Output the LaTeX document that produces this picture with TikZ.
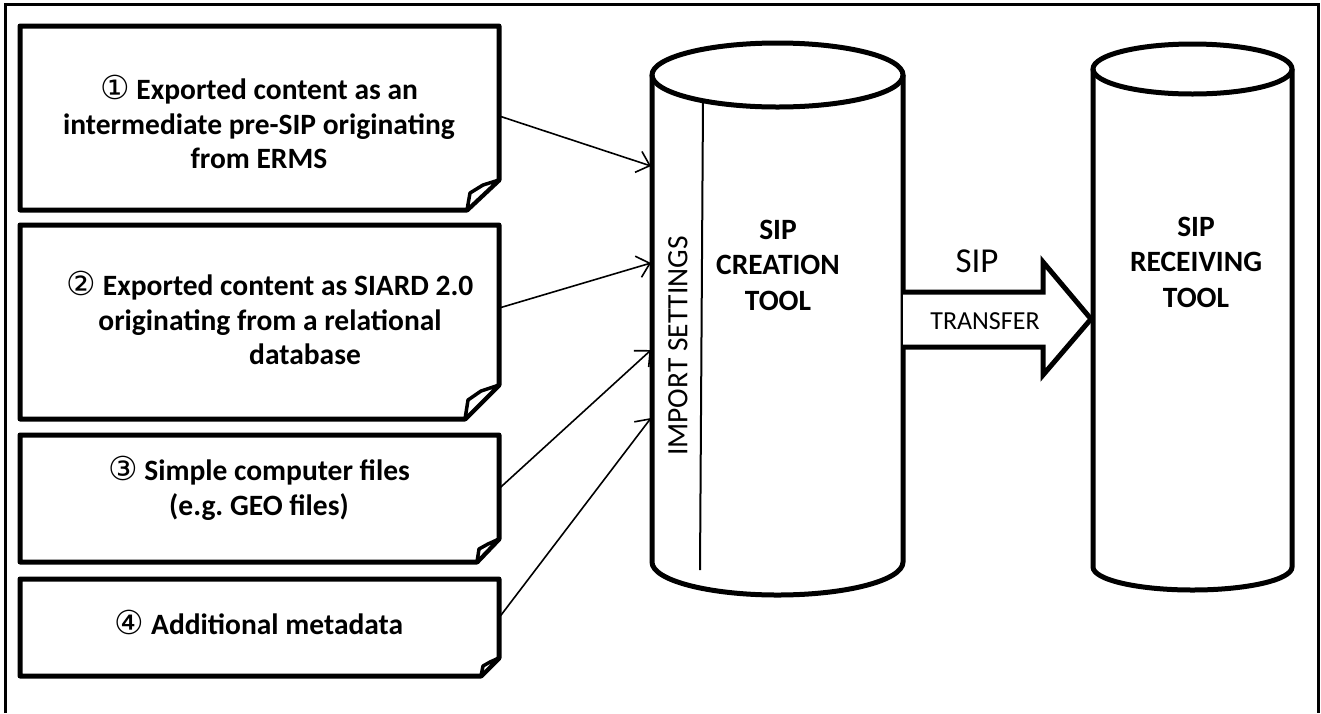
\documentclass[tikz,border=0pt]{standalone}
\usepackage{fontspec}
\setmainfont{Carlito}
\newfontfamily\circf{DejaVu Sans}
\newcommand\cnum[1]{\smash{\circf\mdseries\fontsize{33}{34}\selectfont #1}}
\usetikzlibrary{arrows.meta}
\frenchspacing
\begin{document}
\begin{tikzpicture}[x=1pt,y=-1pt,
  frameline/.style={line width=3pt},
  boxline/.style={line width=5pt, line join=round},
  flap/.style={line width=3.5pt, line join=round, fill=white},
  cyl/.style={line width=5pt},
  conn/.style={line width=1.6pt, -{Straight Barb[length=12pt,width=22pt]}},
  btxt/.style={font=\fontsize{29.5}{34.5}\selectfont\bfseries, align=center, inner sep=0pt},
  ctxt/.style={font=\fontsize{29.5}{35.5}\selectfont\bfseries, align=center, inner sep=0pt},
  boxarea/.style={inner sep=0pt, minimum width=479pt},
]
\useasboundingbox (0,0) rectangle (1321,713);
% outer frame (no bottom edge visible)
\draw[frameline] (5,713) -- (5,4) -- (1318,4) -- (1318,713);

% ---- document boxes ----
% box 1
\draw[boxline] (20,26) -- (499,26) -- (499,180) -- (467,210) -- (20,210) -- cycle;
\draw[flap] (467,210) -- (470,193) -- (483,185) -- (499,180) -- cycle;
\node[boxarea, minimum height=184pt] (box1) at (259.5,118) {};
\node[btxt] (t1) at (259,124) {\cnum{①} Exported content as an\\intermediate pre-SIP originating\\from ERMS};
% box 2
\draw[boxline] (20,225) -- (499,225) -- (499,385) -- (465,419) -- (20,419) -- cycle;
\draw[flap] (465,419) -- (468,400) -- (481,391) -- (499,385) -- cycle;
\node[boxarea, minimum height=194pt] (box2) at (259.5,322) {};
\node[btxt] (t2) at (270,320) {\cnum{②} Exported content as SIARD 2.0\\originating from a relational\\\hspace*{70pt}database};
% box 3
\draw[boxline] (20,435) -- (499,435) -- (499,539) -- (477,562) -- (20,562) -- cycle;
\draw[flap] (477,562) -- (479,549) -- (488,544) -- (499,539) -- cycle;
\node[boxarea, minimum height=127pt] (box3) at (259.5,498.5) {};
\node[btxt] (t3) at (259,490) {\cnum{③} Simple computer files\\(e.g. GEO files)};
% box 4
\draw[boxline] (20,579) -- (499,579) -- (499,658) -- (481,676) -- (20,676) -- cycle;
\draw[flap] (481,676) -- (483,666) -- (490,662) -- (499,658) -- cycle;
\node[boxarea, minimum height=97pt] (box4) at (259.5,627.5) {};
\node[btxt] (t4) at (259,624) {\cnum{④} Additional metadata};

% ---- cylinder 1: SIP creation tool ----
\draw[cyl, fill=white] (652,75) -- (652,562) arc[start angle=180, end angle=0, x radius=125.5, y radius=33] -- (903,75);
\draw[cyl] (777.5,75) ellipse [x radius=125.5, y radius=32];
\draw[line width=2pt] (703,101) -- (700,570);
\node[inner sep=0pt, minimum width=251pt, minimum height=487pt] (cyl1) at (777.5,318.5) {};
\node[font=\fontsize{29.5}{34}\selectfont, rotate=90, inner sep=0pt] (imp) at (678,346) {IMPORT SETTINGS};
\node[ctxt] (ct) at (778,265) {SIP\\CREATION\\TOOL};

% ---- cylinder 2: SIP receiving tool ----
\draw[cyl, fill=white] (1093,69) -- (1093,567) arc[start angle=180, end angle=0, x radius=99.5, y radius=23] -- (1292,69);
\draw[cyl] (1192.5,69) ellipse [x radius=99.5, y radius=25];
\node[inner sep=0pt, minimum width=199pt, minimum height=498pt] (cyl2) at (1192.5,318) {};
\node[ctxt] (rt) at (1196,262) {SIP\\RECEIVING\\TOOL};

% ---- transfer arrow ----
\draw[line width=5pt, line join=miter, fill=white] (903,292) -- (1043,292) -- (1043,262) -- (1091,319) -- (1043,375) -- (1043,347) -- (903,347);
\node[font=\fontsize{35}{40}\selectfont, inner sep=0pt] (siplab) at (977,261) {SIP};
\node[font=\fontsize{26}{30}\selectfont, inner sep=0pt] (trlab) at (985,321) {TRANSFER};

% ---- connectors ----
\coordinate (in1) at (651,166);
\coordinate (in2) at (651,263);
\coordinate (in3) at (651,350);
\coordinate (in4) at (651,418);
\draw[conn] ([yshift=2pt]box1.east) -- (in1);
\draw[conn] ([yshift=14pt]box2.east) -- (in2);
\draw[conn] ([yshift=10pt]box3.east) -- (in3);
\draw[conn] ([yshift=10pt]box4.east) -- (in4);
\end{tikzpicture}
\end{document}
